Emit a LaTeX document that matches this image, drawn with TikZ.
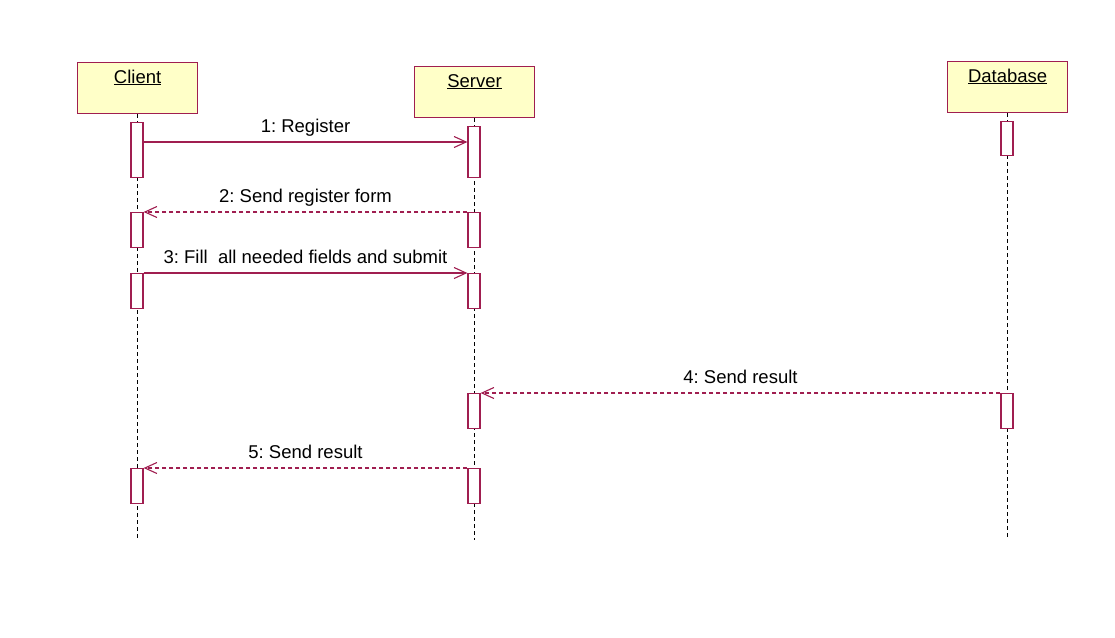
\documentclass[tikz,border=0pt]{standalone}
\usepackage{fontspec}
\setmainfont{Liberation Sans}
\usetikzlibrary{arrows.meta}
\definecolor{uml}{RGB}{160,30,80}
\definecolor{objfill}{RGB}{255,255,200}
\begin{document}
\frenchspacing
\begin{tikzpicture}[x=1pt,y=-1pt,
 obj/.style={draw=uml, fill=objfill, line width=1.2pt, minimum width=120pt, minimum height=51pt, inner sep=0pt, anchor=north west},
 objtext/.style={font=\fontsize{18.5}{20}\selectfont, anchor=base, inner sep=0pt},
 act/.style={draw=uml, fill=white, line width=1.2pt, minimum width=12pt, inner sep=0pt, anchor=north},
 life/.style={draw=black, line width=1.4pt, dash pattern=on 4pt off 3pt},
 msg/.style={draw=uml, line width=1.1pt, -{Straight Barb[length=12pt,width=11pt]}},
 reply/.style={msg, dash pattern=on 4pt off 3pt},
 lbl/.style={font=\fontsize{18.5}{20}\selectfont, anchor=base, inner sep=0pt, midway, yshift=10pt},
]
\useasboundingbox (0,0) rectangle (1115,637);

% objects
\node[obj] (client) at (77,62) {};
\node[obj] (server) at (414,66) {};
\node[obj] (db) at (947,61) {};
\node[objtext] (clientt) at ([yshift=-21pt]client.north) {\underline{Client}};
\node[objtext] (servert) at ([yshift=-21pt]server.north) {\underline{Server}};
\node[objtext] (dbt) at ([yshift=-21pt]db.north) {\underline{Database}};

% lifelines
\coordinate (endc) at (137,538);
\coordinate (ends) at (474,540);
\coordinate (endd) at (1007,537);
\draw[life] (client.south) -- (client.south |- endc);
\draw[life] (server.south) -- (server.south |- ends);
\draw[life] (db.south) -- (db.south |- endd);

% activations
\node[act, minimum height=55pt] (c1) at (137,122) {};
\node[act, minimum height=35pt] (c2) at (137,212) {};
\node[act, minimum height=35pt] (c3) at (137,273) {};
\node[act, minimum height=35pt] (c4) at (137,468) {};
\node[act, minimum height=51pt] (s1) at (474,126) {};
\node[act, minimum height=35pt] (s2) at (474,212) {};
\node[act, minimum height=35pt] (s3) at (474,273) {};
\node[act, minimum height=35pt] (s4) at (474,393) {};
\node[act, minimum height=35pt] (s5) at (474,468) {};
\node[act, minimum height=34pt] (d1) at (1007,121) {};
\node[act, minimum height=35pt] (d2) at (1007,393) {};

% messages
\coordinate (m1) at (0,142);
\draw[msg] (c1.east |- m1) -- node[lbl] (l1) {1: Register} (s1.west |- m1);
\draw[reply] (s2.north west) -- node[lbl] (l2) {2: Send register form} (c2.north east);
\draw[msg] (c3.north east) -- node[lbl] (l3) {3: Fill\ \ all needed fields and submit} (s3.north west);
\draw[reply] (d2.north west) -- node[lbl] (l4) {4: Send result} (s4.north east);
\draw[reply] (s5.north west) -- node[lbl] (l5) {5: Send result} (c4.north east);
\end{tikzpicture}
\end{document}
